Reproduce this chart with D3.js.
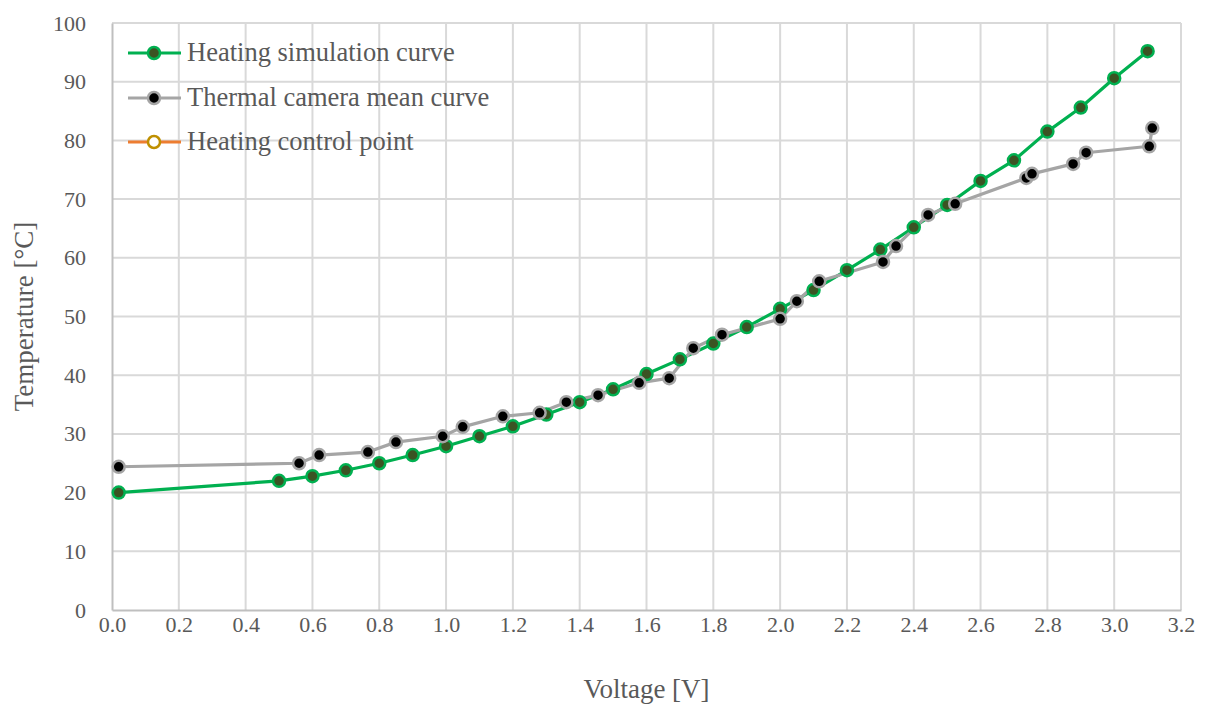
<!DOCTYPE html>
<html>
<head>
<meta charset="utf-8">
<script src="https://cdn.jsdelivr.net/npm/d3@7"></script>
<style>
  html, body { margin: 0; padding: 0; background: #fff; }
  svg { display: block; }
  text { font-family: "Liberation Serif", "DejaVu Serif", serif; fill: #595959; }
</style>
</head>
<body>
<svg id="chart" width="1212" height="704"></svg>
<script>
// ---- data ----
const simVoltage = [0.02, 0.5, 0.6, 0.7, 0.8, 0.9, 1.0, 1.1, 1.2, 1.3, 1.4, 1.5, 1.6, 1.7, 1.8, 1.9, 2.0, 2.1, 2.2, 2.3, 2.4, 2.5, 2.6, 2.7, 2.8, 2.9, 3.0, 3.1];
const simTemp    = [20.0, 22.0, 22.8, 23.8, 25.0, 26.4, 27.9, 29.6, 31.3, 33.3, 35.4, 37.6, 40.2, 42.7, 45.4, 48.2, 51.3, 54.5, 57.9, 61.4, 65.2, 69.0, 73.1, 76.6, 81.5, 85.6, 90.6, 95.2];

const camVoltage = [0.02, 0.56, 0.62, 0.766, 0.85, 0.99, 1.05, 1.17, 1.28, 1.36, 1.455, 1.578, 1.668, 1.74, 1.826, 2.0, 2.05, 2.117, 2.308, 2.347, 2.443, 2.524, 2.737, 2.754, 2.877, 2.916, 3.105, 3.114];
const camTemp    = [24.4, 25.0, 26.4, 26.9, 28.6, 29.6, 31.2, 33.0, 33.6, 35.4, 36.6, 38.7, 39.5, 44.6, 46.9, 49.6, 52.6, 56.0, 59.3, 62.0, 67.3, 69.2, 73.6, 74.3, 76.0, 77.9, 79.0, 82.1];

const ctrlVoltage = [];
const ctrlTemp    = [];

const xTicks = [0.0, 0.2, 0.4, 0.6, 0.8, 1.0, 1.2, 1.4, 1.6, 1.8, 2.0, 2.2, 2.4, 2.6, 2.8, 3.0, 3.2];
const yTicks = [0, 10, 20, 30, 40, 50, 60, 70, 80, 90, 100];

const seriesNames = ["Heating simulation curve", "Thermal camera mean curve", "Heating control point"];

// ---- layout ----
const svg = d3.select("#chart");
const m = { left: 112, right: 1212 - 1181, top: 23, bottom: 704 - 610 };
const W = 1212, H = 704;

const x = d3.scaleLinear().domain([0, 3.2]).range([m.left, W - m.right]);
const y = d3.scaleLinear().domain([0, 100]).range([H - m.bottom, m.top]);

// gridlines
const grid = svg.append("g");
grid.selectAll("line.h").data(yTicks.filter(d => d > 0)).join("line")
  .attr("x1", x(0)).attr("x2", x(3.2))
  .attr("y1", d => y(d)).attr("y2", d => y(d))
  .attr("stroke", "#d9d9d9").attr("stroke-width", 2);
grid.selectAll("line.v").data(xTicks.filter(d => d > 0)).join("line")
  .attr("y1", y(0)).attr("y2", y(100))
  .attr("x1", d => x(d)).attr("x2", d => x(d))
  .attr("stroke", "#d9d9d9").attr("stroke-width", 2);

// axes
const xAxis = d3.axisBottom(x).tickValues(xTicks).tickFormat(d3.format(".1f")).tickSize(0).tickPadding(6);
const yAxis = d3.axisLeft(y).tickValues(yTicks).tickFormat(d3.format("d")).tickSize(0).tickPadding(26);

const gx = svg.append("g").attr("transform", `translate(0,${y(0)})`).call(xAxis);
gx.select(".domain").attr("stroke", "#bfbfbf").attr("stroke-width", 2);
gx.selectAll("text").attr("font-size", 22).style("fill", "#595959")
  .attr("font-family", "Liberation Serif, serif");

const gy = svg.append("g").attr("transform", `translate(${x(0)},0)`).call(yAxis);
gy.select(".domain").attr("stroke", "#bfbfbf").attr("stroke-width", 2);
gy.selectAll("text").attr("font-size", 22).style("fill", "#595959")
  .attr("font-family", "Liberation Serif, serif");

// axis titles
svg.append("text").attr("x", (x(0) + x(3.2)) / 2).attr("y", 698)
  .attr("text-anchor", "middle").attr("font-size", 27).text("Voltage [V]");
svg.append("text").attr("transform", `translate(33,${(y(0) + y(100)) / 2}) rotate(-90)`)
  .attr("text-anchor", "middle").attr("font-size", 27).text("Temperature [°C]");

// series
const simData = simVoltage.map((v, i) => ({ x: v, y: simTemp[i] }));
const camData = camVoltage.map((v, i) => ({ x: v, y: camTemp[i] }));
const ctrlData = ctrlVoltage.map((v, i) => ({ x: v, y: ctrlTemp[i] }));

const line = d3.line().x(d => x(d.x)).y(d => y(d.y));

const styles = [
  { line: "#00b050", fill: "#3b5323", stroke: "#00b050", data: simData },
  { line: "#a5a5a5", fill: "#000000", stroke: "#a5a5a5", data: camData },
  { line: "#ed7d31", fill: "#ffffff", stroke: "#bf9000", data: ctrlData }
];

styles.forEach(s => {
  svg.append("path").datum(s.data).attr("d", line)
    .attr("fill", "none").attr("stroke", s.line).attr("stroke-width", 3.2)
    .attr("stroke-linejoin", "round");
});
styles.forEach(s => {
  svg.append("g").selectAll("circle").data(s.data).join("circle")
    .attr("cx", d => x(d.x)).attr("cy", d => y(d.y)).attr("r", 6)
    .attr("fill", s.fill).attr("stroke", s.stroke).attr("stroke-width", 2.5);
});

// legend
const legY = [53, 98, 142];
const leg = svg.append("g");
seriesNames.forEach((name, i) => {
  const s = styles[i];
  const g = leg.append("g").attr("transform", `translate(0,${legY[i]})`);
  g.append("line").attr("x1", 128).attr("x2", 181).attr("y1", 0).attr("y2", 0)
    .attr("stroke", s.line).attr("stroke-width", 3.2);
  g.append("circle").attr("cx", 154).attr("cy", 0).attr("r", 6)
    .attr("fill", s.fill).attr("stroke", s.stroke).attr("stroke-width", 2.5);
  g.append("text").attr("x", 187).attr("y", 8).attr("font-size", 26.5).text(name);
});
</script>
</body>
</html>
